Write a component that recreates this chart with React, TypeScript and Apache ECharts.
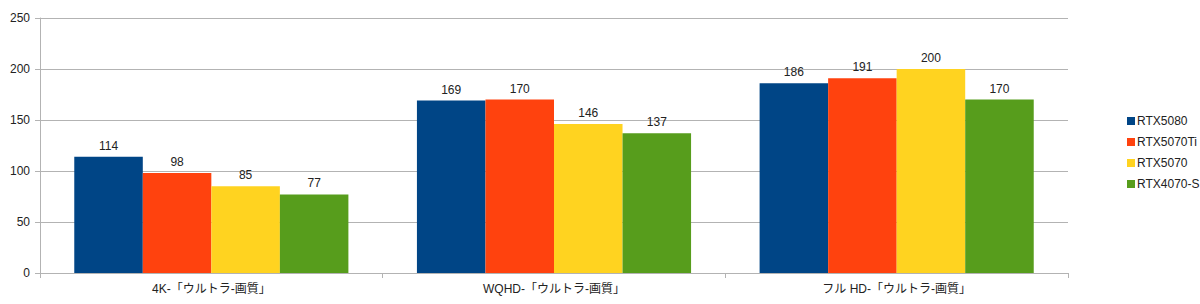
import React, { useEffect, useRef } from "react";
import * as echarts from "echarts";

const categories = ["4K-「ウルトラ-画質」", "WQHD-「ウルトラ-画質」", "フル HD-「ウルトラ-画質」"];
const seriesNames = ["RTX5080", "RTX5070Ti", "RTX5070", "RTX4070-S"];
const rtx5080 = [114, 169, 186];
const rtx5070ti = [98, 170, 191];
const rtx5070 = [85, 146, 200];
const rtx4070s = [77, 137, 170];
const colors = ["#004586", "#ff420e", "#ffd320", "#579d1c"];

const FONT = "'Liberation Sans', Arial, 'Noto Sans CJK JP', sans-serif";

export default function App() {
  const ref = useRef<HTMLDivElement>(null);
  useEffect(() => {
    document.body.style.margin = "0";
    const chart = echarts.init(ref.current!, null, { renderer: "svg" });
    const data = [rtx5080, rtx5070ti, rtx5070, rtx4070s];
    chart.setOption({
      animation: false,
      backgroundColor: "#ffffff",
      textStyle: { fontFamily: FONT },
      grid: { left: 40, right: 132, top: 18, bottom: 31, containLabel: false },
      legend: {
        orient: "vertical",
        left: 1122,
        top: 110,
        icon: "rect",
        itemWidth: 8,
        itemHeight: 8,
        itemGap: 9,
        data: seriesNames,
        textStyle: { fontSize: 12, color: "#222", fontFamily: FONT, padding: [0, 0, 0, -3] },
      },
      xAxis: {
        type: "category",
        data: categories,
        axisLine: { lineStyle: { color: "#b3b3b3", width: 1 } },
        axisTick: { show: true, length: 5, alignWithLabel: false, lineStyle: { color: "#b3b3b3" } },
        axisLabel: { fontSize: 12, color: "#222", margin: 10, fontFamily: FONT },
        splitLine: { show: false },
      },
      yAxis: {
        type: "value",
        min: 0,
        max: 250,
        interval: 50,
        axisLine: { show: true, lineStyle: { color: "#b3b3b3", width: 1 } },
        axisTick: { show: true, length: 5, lineStyle: { color: "#b3b3b3" } },
        axisLabel: { fontSize: 12, color: "#222", margin: 10, fontFamily: FONT },
        splitLine: { show: true, lineStyle: { color: "#b3b3b3", width: 1 } },
      },
      series: seriesNames.map((name, i) => ({
        name,
        type: "bar",
        data: data[i],
        barGap: "0%",
        barCategoryGap: "20%",
        itemStyle: { color: colors[i] },
        label: {
          show: true,
          position: "top",
          distance: 5,
          fontSize: 12,
          color: "#222",
          fontFamily: FONT,
        },
      })),
    });
    return () => chart.dispose();
  }, []);
  return (
    <div
      ref={ref}
      style={{ position: "absolute", left: 0, top: 0, width: 1200, height: 304 }}
    />
  );
}
